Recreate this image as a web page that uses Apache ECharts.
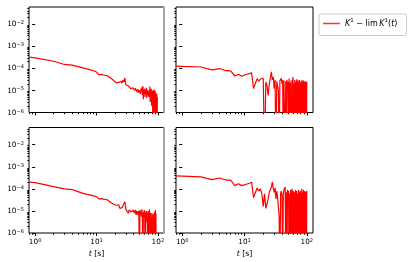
<!DOCTYPE html>
<html><head><meta charset="utf-8">
<script src="https://cdn.jsdelivr.net/npm/echarts@6/dist/echarts.min.js"></script>
<style>html,body{margin:0;padding:0;background:#fff}#c{width:415px;height:262px}</style>
</head><body><div id="c"></div>
<script>
// time [s]
const t = [0.8,1,2,3,4,5,6,7,8,9,10,11,12,13,14,15,16,17,18,19,20,21,22,23,24,25,26,27,28,29,30,
31,32,33,34,35,36,37,38,39,40,41,42,43,44,45,46,47,48,49,50,51,52,53,54,55,56,57,58,59,60,
61,62,63,64,65,66,67,68,69,70,71,72,73,74,75,76,77,78,79,80,81,82,83,84,85,86,87,88,89,90,
91,92,93,94,95,96,97,98,99,100];

const kTopLeft = [3.2e-4,3.0e-4,2.1e-4,1.5e-4,1.4e-4,1.2e-4,1.05e-4,9.5e-5,8.5e-5,7.8e-5,6.8e-5,
5.1e-5,5.3e-5,5.0e-5,5.1e-5,4.6e-5,4.5e-5,3.7e-5,3.4e-5,2.8e-5,2.4e-5,
2.2e-5,2.6e-5,2.3e-5,2.8e-5,2.6e-5,2.1e-5,3.0e-5,2.4e-5,3.7e-5,1.8e-5,
1.9e-5,1.5e-5,1.6e-5,1.3e-5,1.5e-5,1.2e-5,1.4e-5,1.1e-5,1.3e-5,1.2e-5,
1.35e-5,1.0e-5,1.25e-5,1.05e-5,1.2e-5,8.5e-6,1.15e-5,8.0e-6,1.05e-5,9.0e-6,
1.1e-5,7.0e-6,1.2e-5,9.0e-6,1.4e-5,6.0e-6,1.6e-5,4.0e-6,1.1e-5,7.0e-6,
1.2e-5,5.0e-6,1.0e-5,8.0e-6,1.3e-5,4.5e-6,1.1e-5,6.0e-6,1.0e-5,1.2e-5,
5.0e-6,9.0e-6,6.0e-6,1.5e-5,3.0e-6,1.0e-5,7.0e-6,1.2e-5,2.0e-6,9.0e-6,
5.0e-6,1.0e-5,1e-8,8.0e-6,1e-8,1.1e-5,3.0e-6,9.0e-6,1e-8,1.0e-5,
1e-8,8.0e-6,1e-8,6.0e-6,1e-8,7.0e-6,1e-8,5.0e-6];

const kTopRight = [1.26e-4,1.22e-4,1.15e-4,8.5e-5,9.8e-5,7.8e-5,7.6e-5,4.5e-5,5.4e-5,4.4e-5,5.0e-5,
5.4e-5,5.8e-5,6.2e-5,1.2e-5,2.2e-5,3.4e-5,2.6e-5,3.3e-5,2.8e-5,3.5e-5,
1e-8,2.4e-5,1.6e-5,6.0e-6,2.0e-5,3.6e-5,7.0e-5,3.0e-5,4.0e-5,1.2e-5,
3.0e-5,1e-8,2.6e-5,2.4e-5,1.0e-5,1e-8,2.8e-5,3.4e-5,3.5e-5,2.0e-5,
3.0e-5,1e-8,2.8e-5,3.2e-5,1e-8,2.6e-5,1e-8,3.0e-5,1.2e-5,2.5e-5,
1e-8,3.5e-5,1e-8,2.2e-5,1e-8,2.8e-5,3.0e-5,1e-8,2.5e-5,4.0e-5,
1e-8,2.0e-5,1e-8,3.0e-5,1.5e-5,1e-8,2.5e-5,1e-8,3.2e-5,2.0e-5,
1e-8,2.8e-5,1e-8,2.2e-5,1e-8,3.0e-5,1.0e-5,2.5e-5,1e-8,2.0e-5,
1e-8,2.6e-5,1e-8,3.0e-5,1.8e-5,1e-8,2.2e-5,1e-8,2.8e-5,1e-8,
1.5e-5,2.5e-5,1e-8,2.0e-5,1e-8,2.6e-5,1e-8,2.2e-5,1e-8,2.4e-5];

const kBottomLeft = [2.0e-4,1.9e-4,1.25e-4,1.0e-4,9.3e-5,7.5e-5,6.2e-5,5.6e-5,5.2e-5,4.8e-5,4.4e-5,
3.5e-5,3.6e-5,3.4e-5,3.4e-5,3.2e-5,2.8e-5,2.4e-5,2.3e-5,2.0e-5,1.9e-5,
1.8e-5,1.6e-5,1.9e-5,1.3e-5,1.6e-5,1.4e-5,1.55e-5,1.3e-5,2.6e-5,1.2e-5,
1.1e-5,1.3e-5,8.0e-6,1.1e-5,9.0e-6,1.25e-5,9.0e-6,1.0e-5,7.5e-6,1.1e-5,
8.0e-6,9.0e-6,1.1e-5,6.5e-6,1.0e-5,7.0e-6,9.5e-6,6.5e-6,1.0e-5,1e-8,
1.1e-5,7.0e-6,1.0e-5,5.5e-6,1.2e-5,4.0e-6,1e-8,9.0e-6,5.0e-6,1.1e-5,
8.0e-6,1e-8,9.0e-6,6.0e-6,1.0e-5,3.0e-6,8.0e-6,1e-8,1.0e-5,4.0e-6,
9.0e-6,1e-8,1.2e-5,7.0e-6,1e-8,8.0e-6,1e-8,5.0e-6,1e-8,8.0e-6,
1e-8,3.0e-6,1e-8,7.0e-6,1e-8,5.0e-6,1e-8,9.0e-6,6.0e-6,1e-8,
1.1e-5,1e-8,8.0e-6,1e-8,1e-8];

const kBottomRight = [3.9e-4,3.8e-4,3.5e-4,2.6e-4,3.1e-4,2.5e-4,2.5e-4,1.4e-4,1.7e-4,1.4e-4,1.5e-4,
1.65e-4,1.8e-4,2.0e-4,4.0e-5,7.0e-5,1.1e-4,8.0e-5,1.0e-4,6.0e-5,1.6e-5,
6.0e-5,1.3e-5,2.0e-5,3.6e-5,7.0e-5,9.0e-5,1.2e-4,2.0e-4,1.0e-4,7.0e-5,
1.1e-4,3.5e-5,8.0e-5,4.0e-5,1.5e-5,5.5e-6,1e-8,6.0e-5,8.0e-5,5.0e-5,
1e-8,6.0e-5,9.0e-5,1.1e-4,1.2e-4,1e-8,7.0e-5,1e-8,9.0e-5,5.0e-5,
8.0e-5,1e-8,6.0e-5,1e-8,9.0e-5,4.0e-5,1e-8,1.0e-4,6.0e-5,1e-8,
8.0e-5,3.5e-5,1e-8,7.0e-5,1e-8,9.0e-5,5.0e-5,1e-8,8.0e-5,1e-8,
6.0e-5,3.0e-5,1e-8,9.0e-5,1e-8,7.0e-5,1e-8,5.0e-5,8.0e-5,1e-8,
6.0e-5,1e-8,1.0e-4,1.1e-4,1e-8,7.0e-5,1e-8,9.0e-5,1e-8,6.0e-5,
1e-8,8.0e-5,1e-8,7.0e-5,1e-8,6.5e-5,1e-8,7.5e-5,1e-8,8.0e-5];

const xTickExponents = [0, 1, 2];
const yTickExponents = [-6, -5, -4, -3, -2];
const xMinorTicks = [0.8,0.9,2,3,4,5,6,7,8,9,20,30,40,50,60,70,80,90];
const yMinorTicks = [2e-6,3e-6,4e-6,5e-6,6e-6,7e-6,8e-6,9e-6,2e-5,3e-5,4e-5,5e-5,6e-5,7e-5,8e-5,9e-5,
  2e-4,3e-4,4e-4,5e-4,6e-4,7e-4,8e-4,9e-4,2e-3,3e-3,4e-3,5e-3,6e-3,7e-3,8e-3,9e-3,2e-2,3e-2,4e-2,5e-2];
const xName = 't [s]';
const legendName = 'K1 - lim K1(t)';

const X_MIN = Math.pow(10, -0.1), X_MAX = Math.pow(10, 2.1);
const Y_MIN = 1e-6, Y_MAX = 0.06;
const FONT = 'DejaVu Sans';

const panels = [
  {data: kTopLeft,     grid: {left: 29,  top: 7,     width: 135, height: 105.5}},
  {data: kTopRight,    grid: {left: 176, top: 7,     width: 137, height: 105.5}},
  {data: kBottomLeft,  grid: {left: 29,  top: 127.5, width: 135, height: 105.5}},
  {data: kBottomRight, grid: {left: 176, top: 127.5, width: 137, height: 105.5}}
];

function expLabel(v) {
  const n = Math.round(v);
  return '{b|10}{s|' + (n < 0 ? '\u2212' + (-n) : n) + '}';
}
const labelRich = {
  b: {fontFamily: FONT, fontSize: 7.3, color: '#000', lineHeight: 7.5, padding: [2, 0, 0, 0], verticalAlign: 'bottom'},
  s: {fontFamily: FONT, fontSize: 5.1, color: '#000', lineHeight: 5, verticalAlign: 'top'}
};
const tickStyle = {color: '#000', width: 1};

const grids = [], xAxes = [], yAxes = [], series = [];
panels.forEach((p, i) => {
  const bottomRow = i >= 2, leftCol = i % 2 === 0;
  grids.push(Object.assign({show: true, borderColor: '#000', borderWidth: 1, backgroundColor: 'transparent'}, p.grid));
  const xMain = xAxes.length;
  xAxes.push({type: 'log', logBase: 10, gridIndex: i, min: X_MIN, max: X_MAX, show: false});
  xAxes.push({
    type: 'value', gridIndex: i, min: -0.1, max: 2.1, position: 'bottom',
    axisLine: {show: false}, splitLine: {show: false},
    axisTick: {show: true, customValues: xTickExponents, length: 3, lineStyle: tickStyle},
    axisLabel: {show: bottomRow, customValues: xTickExponents, formatter: expLabel, margin: 5.5, rich: labelRich},
    name: bottomRow ? '{i|t} [s]' : '', nameLocation: 'middle', nameGap: 17,
    nameTextStyle: {fontFamily: FONT, fontSize: 7.8, color: '#000', rich: {i: {fontFamily: FONT, fontSize: 7.8, fontStyle: 'italic', color: '#000'}}}
  });
  xAxes.push({
    type: 'value', gridIndex: i, min: -0.1, max: 2.1, position: 'bottom',
    axisLine: {show: false}, splitLine: {show: false}, axisLabel: {show: false},
    axisTick: {show: true, customValues: xMinorTicks.map(Math.log10), length: 1.7, lineStyle: tickStyle}
  });
  const yMain = yAxes.length;
  yAxes.push({type: 'log', logBase: 10, gridIndex: i, min: Y_MIN, max: Y_MAX, show: false});
  yAxes.push({
    type: 'value', gridIndex: i, min: -6, max: Math.log10(Y_MAX), position: 'left',
    axisLine: {show: false}, splitLine: {show: false},
    axisTick: {show: true, customValues: yTickExponents, length: 3, lineStyle: tickStyle},
    axisLabel: {show: leftCol, customValues: yTickExponents, formatter: expLabel, margin: 5, rich: labelRich}
  });
  yAxes.push({
    type: 'value', gridIndex: i, min: -6, max: Math.log10(Y_MAX), position: 'left',
    axisLine: {show: false}, splitLine: {show: false}, axisLabel: {show: false},
    axisTick: {show: true, customValues: yMinorTicks.map(Math.log10), length: 1.7, lineStyle: tickStyle}
  });
  if (leftCol) {
    yAxes.push({
      type: 'value', gridIndex: i, min: 0, max: 1, position: 'right',
      axisLine: {show: true, lineStyle: {color: '#a8a8a8', width: 2}},
      axisTick: {show: false}, axisLabel: {show: false}, splitLine: {show: false}
    });
  }
  const pairs = [];
  p.data.forEach((v, k) => pairs.push([t[k], v]));
  series.push({
    type: 'line', name: legendName, xAxisIndex: xMain, yAxisIndex: yMain, data: pairs,
    symbol: 'none', clip: true, animation: false,
    lineStyle: {color: '#ff0000', width: 1.2}, itemStyle: {color: '#ff0000'}
  });
});

const chart = echarts.init(document.getElementById('c'), null, {renderer: 'canvas'});
chart.setOption({
  backgroundColor: '#fff',
  animation: false,
  grid: grids, xAxis: xAxes, yAxis: yAxes, series: series,
  legend: {
    data: [{name: legendName, icon: 'rect'}], left: 319, top: 14, padding: [4, 9, 8, 4],
    itemWidth: 17, itemHeight: 1.5, selectedMode: false,
    itemStyle: {color: '#ff3333'},
    borderColor: '#cccccc', borderWidth: 1, borderRadius: 2, backgroundColor: '#fff',
    formatter: () => '{it|K}{sup|1}{n| \u2212 lim\u2009}{it|K}{sup|1}{n|(}{it|t}{n|)}',
    textStyle: {
      fontFamily: FONT, fontSize: 8, color: '#000',
      rich: {
        it: {fontFamily: FONT, fontSize: 8, fontStyle: 'italic', color: '#000', lineHeight: 11},
        n: {fontFamily: FONT, fontSize: 8, color: '#000', lineHeight: 11},
        sup: {fontFamily: FONT, fontSize: 5.5, color: '#000', lineHeight: 6, verticalAlign: 'top'}
      }
    }
  },
  graphic: [{
    type: 'text', left: 366, top: 27,
    style: {text: 't\u2192\u221e', fontFamily: FONT, fontSize: 4.8, fill: '#000', fontStyle: 'italic'}
  }]
});
</script></body></html>
